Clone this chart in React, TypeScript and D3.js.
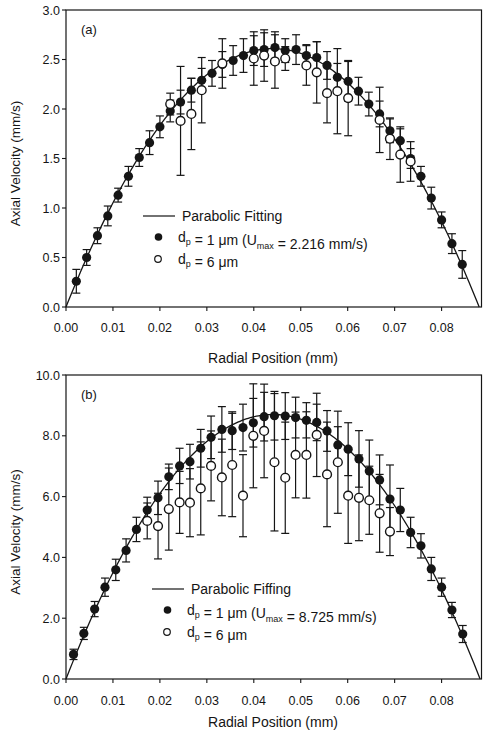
import * as d3 from "d3";
import React from "react";

// radial positions (mm) and velocities (mm/s)
const posA = [0.0022, 0.0044, 0.0067, 0.0089, 0.0111, 0.0133, 0.0156, 0.0178, 0.02, 0.0222, 0.0244, 0.0267, 0.0289, 0.0311, 0.0333, 0.0356, 0.0378, 0.04, 0.0422, 0.0445, 0.0467, 0.049, 0.0512, 0.0534, 0.0556, 0.0578, 0.0601, 0.0623, 0.0645, 0.0668, 0.069, 0.0712, 0.0734, 0.0756, 0.0778, 0.08, 0.0822, 0.0844];
const velA1 = [0.26, 0.5, 0.72, 0.92, 1.13, 1.32, 1.51, 1.66, 1.82, 1.98, 2.07, 2.19, 2.29, 2.36, 2.45, 2.49, 2.54, 2.59, 2.6, 2.62, 2.59, 2.6, 2.54, 2.52, 2.44, 2.32, 2.28, 2.18, 2.05, 1.95, 1.78, 1.68, 1.5, 1.32, 1.1, 0.88, 0.64, 0.43];
const errA1 = [0.12, 0.08, 0.08, 0.1, 0.07, 0.1, 0.09, 0.12, 0.11, 0.11, 0.12, 0.12, 0.12, 0.13, 0.13, 0.15, 0.17, 0.15, 0.17, 0.16, 0.12, 0.15, 0.11, 0.16, 0.14, 0.14, 0.2, 0.14, 0.12, 0.13, 0.12, 0.12, 0.1, 0.1, 0.11, 0.08, 0.1, 0.14];

const posA6 = [0.0222, 0.0244, 0.0267, 0.0289, 0.0333, 0.04, 0.0422, 0.0445, 0.0467, 0.0512, 0.0534, 0.0556, 0.0578, 0.0601, 0.0668, 0.069, 0.0712, 0.0734];
const velA6 = [2.05, 1.88, 1.95, 2.19, 2.46, 2.51, 2.54, 2.48, 2.51, 2.44, 2.37, 2.16, 2.18, 2.11, 1.89, 1.7, 1.54, 1.47];
const errA6 = [0.11, 0.55, 0.36, 0.33, 0.25, 0.27, 0.26, 0.27, 0.12, 0.2, 0.31, 0.3, 0.43, 0.38, 0.33, 0.21, 0.28, 0.2];

const posB = [0.0016, 0.0038, 0.0061, 0.0083, 0.0106, 0.0128, 0.015, 0.0173, 0.0196, 0.0219, 0.0242, 0.0264, 0.0287, 0.0309, 0.0332, 0.0354, 0.0377, 0.0399, 0.0422, 0.0444, 0.0467, 0.0489, 0.0512, 0.0534, 0.0556, 0.0579, 0.0601, 0.0624, 0.0646, 0.0668, 0.069, 0.0712, 0.0734, 0.0756, 0.0778, 0.08, 0.0822, 0.0845];
const velB1 = [0.81, 1.5, 2.3, 3.02, 3.59, 4.23, 4.92, 5.56, 5.96, 6.65, 7.01, 7.15, 7.59, 7.95, 8.21, 8.17, 8.27, 8.43, 8.63, 8.66, 8.65, 8.6, 8.51, 8.44, 8.16, 7.7, 7.56, 7.24, 6.84, 6.55, 5.92, 5.56, 4.82, 4.38, 3.62, 3.02, 2.27, 1.48];
const errB1 = [0.17, 0.2, 0.25, 0.3, 0.35, 0.38, 0.4, 0.42, 0.55, 0.42, 0.58, 0.57, 0.62, 0.7, 0.75, 0.62, 0.77, 0.8, 0.8, 0.8, 0.77, 0.67, 0.58, 0.6, 0.67, 0.6, 0.87, 0.93, 1.02, 0.82, 1.12, 0.71, 0.5, 0.4, 0.38, 0.3, 0.25, 0.28];

const posB6 = [0.0173, 0.0196, 0.0219, 0.0242, 0.0264, 0.0287, 0.0309, 0.0332, 0.0354, 0.0377, 0.0399, 0.0422, 0.0444, 0.0467, 0.0489, 0.0512, 0.0534, 0.0556, 0.0579, 0.0601, 0.0624, 0.0646, 0.0668, 0.069];
const velB6 = [5.2, 5.03, 5.59, 5.81, 5.8, 6.27, 7.01, 6.63, 7.04, 6.03, 8.0, 8.16, 7.13, 6.62, 7.37, 7.37, 8.03, 6.73, 7.13, 6.03, 5.96, 5.88, 5.45, 4.85];
const errB6 = [0.59, 1.08, 1.35, 1.02, 1.12, 1.53, 1.15, 1.26, 1.7, 1.35, 1.71, 1.54, 2.26, 1.83, 1.41, 1.42, 1.37, 1.72, 1.68, 1.57, 1.41, 1.12, 1.28, 0.79];

// parabolic fit parameters (peak, centre, half width)
const fitA = { peak: 2.61, center: 0.044, half: 0.044 };
const fitB = { peak: 8.7, center: 0.0441, half: 0.0441 };

const xTicks = [0, 0.01, 0.02, 0.03, 0.04, 0.05, 0.06, 0.07, 0.08];
const yTicksA = [0, 0.5, 1.0, 1.5, 2.0, 2.5, 3.0];
const yTicksB = [0, 2, 4, 6, 8, 10];

const FONT = "'Liberation Sans', Arial, Helvetica, sans-serif";
const INK = "#151515";

function Sub({ children }) {
  return (
    <>
      <tspan dy={3.5} fontSize={9}>{children}</tspan>
      <tspan dy={-3.5}>{""}</tspan>
    </>
  );
}

function Panel(props) {
  const { top, bottom, yMax, yTicks, yFmt, fit, pos1, vel1, err1, pos6, vel6, err6, letter, umax, fitLabel, legendX, legendY, titleDy, tickDy } = props;
  const left = 66;
  const right = 481.5;
  const x = d3.scaleLinear().domain([0, 0.0885]).range([left, right]);
  const y = d3.scaleLinear().domain([0, yMax]).range([bottom, top]);

  const fitPts = d3.range(0, 2 * fit.half + 1e-9, fit.half / 100).map(r => [r, fit.peak * (1 - ((r - fit.center) / fit.half) ** 2)]);
  const line = d3.line().x(d => x(d[0])).y(d => y(Math.max(0, d[1])));

  const cap = 4;
  const bars = (pos, vel, err, key) =>
    pos.map((p, i) => {
      const cx = x(p);
      const y1 = y(vel[i] + err[i]);
      const y2 = y(vel[i] - err[i]);
      return (
        <g key={key + i} stroke={INK} strokeWidth={1.2}>
          <line x1={cx} x2={cx} y1={y1} y2={y2} />
          <line x1={cx - cap} x2={cx + cap} y1={y1} y2={y1} />
          <line x1={cx - cap} x2={cx + cap} y1={y2} y2={y2} />
        </g>
      );
    });

  return (
    <g fontFamily={FONT} fill={INK}>
      {/* frame */}
      <rect x={left} y={top} width={right - left} height={bottom - top} fill="none" stroke={INK} strokeWidth={1.2} />

      {/* x axis */}
      {xTicks.map((t, i) => (
        <g key={"xt" + i}>
          <line x1={x(t)} x2={x(t)} y1={bottom} y2={bottom + 4} stroke={INK} strokeWidth={1.1} />
          <text x={x(t)} y={bottom + tickDy} fontSize={12.5} textAnchor="middle">{t.toFixed(2)}</text>
        </g>
      ))}
      <text x={273} y={bottom + titleDy} fontSize={14} textAnchor="middle">Radial Position (mm)</text>

      {/* y axis */}
      {yTicks.map((t, i) => (
        <g key={"yt" + i}>
          <line x1={left - 4} x2={left} y1={y(t)} y2={y(t)} stroke={INK} strokeWidth={1.1} />
          <text x={60} y={y(t)} dy="0.36em" fontSize={12.5} textAnchor="end">{t.toFixed(yFmt)}</text>
        </g>
      ))}
      <text transform={`translate(20,${(top + bottom) / 2 + 5}) rotate(-90)`} fontSize={13.5} textAnchor="middle">Axial Velocity (mm/s)</text>

      <text x={81} y={top + 24} fontSize={13}>{letter}</text>

      {/* error bars */}
      {bars(pos1, vel1, err1, "e1")}
      {bars(pos6, vel6, err6, "e6")}

      {/* fit */}
      <path d={line(fitPts)} fill="none" stroke={INK} strokeWidth={1.3} />

      {pos1.map((p, i) => (
        <circle key={"f" + i} cx={x(p)} cy={y(vel1[i])} r={4.6} fill={INK} />
      ))}
      {pos6.map((p, i) => (
        <circle key={"o" + i} cx={x(p)} cy={y(vel6[i])} r={4.4} fill="#fff" stroke={INK} strokeWidth={1.4} />
      ))}

      {/* legend */}
      <g fontSize={14}>
        <line x1={legendX} x2={legendX + 32} y1={legendY} y2={legendY} stroke={INK} strokeWidth={1.2} />
        <text x={legendX + 39} y={legendY} dy="0.35em">{fitLabel}</text>
        <circle cx={legendX + 15.5} cy={legendY + 21} r={3.8} fill={INK} />
        <text x={legendX + 35} y={legendY + 21} dy="0.35em">
          d<Sub>p</Sub> = 1 μm (U<Sub>max</Sub> = {umax} mm/s)
        </text>
        <circle cx={legendX + 15} cy={legendY + 43} r={3.3} fill="#fff" stroke={INK} strokeWidth={1.2} />
        <text x={legendX + 35} y={legendY + 43} dy="0.35em">
          d<Sub>p</Sub> = 6 μm
        </text>
      </g>
    </g>
  );
}

export default function App() {
  return (
    <svg width={483} height={735} style={{ position: "absolute", left: 0, top: 0, background: "#fff" }}>
      <rect width={483} height={735} fill="#fff" />
      <Panel top={10} bottom={307} yMax={3} yTicks={yTicksA} yFmt={1} fit={fitA}
        pos1={posA} vel1={velA1} err1={errA1} pos6={posA6} vel6={velA6} err6={errA6}
        letter="(a)" umax="2.216" fitLabel="Parabolic Fitting" legendX={143} legendY={216}
        titleDy={56} tickDy={24.5} />
      <Panel top={375} bottom={679} yMax={10} yTicks={yTicksB} yFmt={1} fit={fitB}
        pos1={posB} vel1={velB1} err1={errB1} pos6={posB6} vel6={velB6} err6={errB6}
        letter="(b)" umax="8.725" fitLabel="Parabolic Fiffing" legendX={152} legendY={589}
        titleDy={48} tickDy={26} />
    </svg>
  );
}
